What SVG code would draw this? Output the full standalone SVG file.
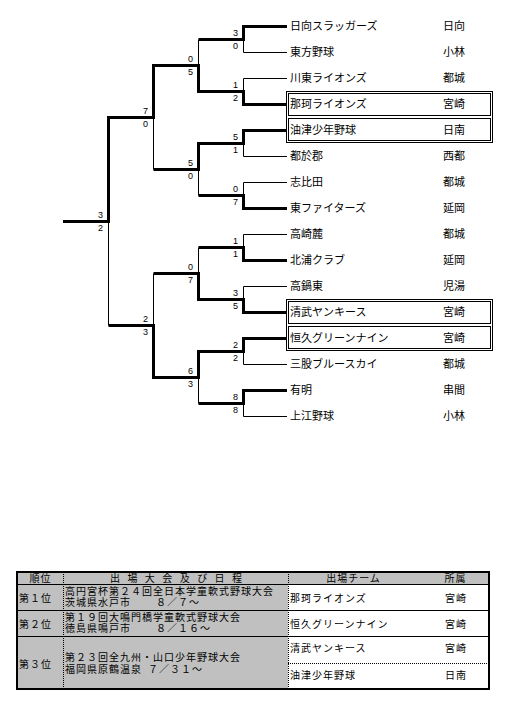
<svg xmlns="http://www.w3.org/2000/svg" width="510" height="703" viewBox="0 0 510 703">
<style>
.t{font-family:"Noto Sans CJK JP","Noto Sans CJK SC",sans-serif;font-size:11px;fill:#000}
.m{font-family:"Noto Sans CJK JP","Noto Sans CJK SC",sans-serif;font-size:10px;letter-spacing:1px;fill:#000}
.s{font-family:"Liberation Sans",Arial,sans-serif;font-size:9px;fill:#000;text-anchor:end}
.thin{stroke:#000;stroke-width:1;fill:none}
.thick{stroke:#000;stroke-width:3;fill:none;stroke-linejoin:miter;stroke-linecap:butt}
.box{stroke:#000;stroke-width:1;fill:none}
.dot{stroke:#000;stroke-width:1;stroke-dasharray:1 1;fill:none}
.gray{fill:#c0c0c0}
.c{text-anchor:middle}
</style>
<rect width="510" height="703" fill="#fff"/>

<g id="connectors">
  <g id="thin-lines">
    <path class="thin" d="M243.5 26.5H287M243.5 52.5H287M243.5 78.5H287M243.5 104.5H287M243.5 130.5H287M243.5 156.5H287M243.5 182.5H287M243.5 208.5H287M243.5 234.5H287M243.5 260.5H287M243.5 286.5H287M243.5 312.5H287M243.5 338.5H287M243.5 364.5H287M243.5 390.5H287M243.5 416.5H287"/>
    <path class="thin" d="M243.5 26.5V52.5M243.5 78.5V104.5M243.5 130.5V156.5M243.5 182.5V208.5M243.5 234.5V260.5M243.5 286.5V312.5M243.5 338.5V364.5M243.5 390.5V416.5"/>
    <path class="thin" d="M198.5 39.5V91.5M198.5 143.5V195.5M198.5 247.5V299.5M198.5 351.5V403.5"/>
    <path class="thin" d="M153.5 65.5V169.5M153.5 273.5V377.5M108.5 117.5V325.5"/>
  </g>
  <g id="winner-lines">
    <path class="thick" d="M287 26.5H243.5V39.5H198.5"/>
    <path class="thick" d="M287 104.5H243.5V91.5H198.5V65.5H153.5V117.5H108.5V221.5H63"/>
    <path class="thick" d="M287 130.5H243.5V143.5H198.5V169.5H153.5"/>
    <path class="thick" d="M287 208.5H243.5V195.5H198.5"/>
    <path class="thick" d="M287 260.5H243.5V247.5H198.5"/>
    <path class="thick" d="M287 312.5H243.5V299.5H198.5V273.5H153.5"/>
    <path class="thick" d="M287 338.5H243.5V351.5H198.5V377.5H153.5V325.5H108.5"/>
    <path class="thick" d="M287 390.5H243.5V403.5H198.5"/>
  </g>
</g>

<g id="scores">
  <text class="s" x="238" y="36">3</text><text class="s" x="238" y="48.5">0</text>
  <text class="s" x="238" y="88">1</text><text class="s" x="238" y="100.5">2</text>
  <text class="s" x="238" y="140">5</text><text class="s" x="238" y="152.5">1</text>
  <text class="s" x="238" y="192">0</text><text class="s" x="238" y="204.5">7</text>
  <text class="s" x="238" y="244">1</text><text class="s" x="238" y="256.5">1</text>
  <text class="s" x="238" y="296">3</text><text class="s" x="238" y="308.5">5</text>
  <text class="s" x="238" y="348">2</text><text class="s" x="238" y="360.5">2</text>
  <text class="s" x="238" y="400">8</text><text class="s" x="238" y="412.5">8</text>
  <text class="s" x="193" y="62">0</text><text class="s" x="193" y="74.5">5</text>
  <text class="s" x="193" y="166">5</text><text class="s" x="193" y="178.5">0</text>
  <text class="s" x="193" y="270">0</text><text class="s" x="193" y="282.5">7</text>
  <text class="s" x="193" y="374">6</text><text class="s" x="193" y="386.5">3</text>
  <text class="s" x="148" y="114">7</text><text class="s" x="148" y="126.5">0</text>
  <text class="s" x="148" y="322">2</text><text class="s" x="148" y="334.5">3</text>
  <text class="s" x="103" y="218">3</text><text class="s" x="103" y="230.5">2</text>
</g>

<g id="highlight-boxes">
  <rect class="box" x="286.5" y="91.5" width="206" height="51"/>
  <rect class="box" x="288.5" y="93.5" width="202" height="22"/>
  <rect class="box" x="288.5" y="118.5" width="202" height="22"/>
  <rect class="box" x="286.5" y="299.5" width="206" height="51"/>
  <rect class="box" x="288.5" y="301.5" width="202" height="22"/>
  <rect class="box" x="288.5" y="326.5" width="202" height="22"/>
</g>

<g id="team-01"><text class="t" x="290" y="29.5">日向スラッガーズ</text><text class="t" x="443" y="29.5">日向</text></g>
<g id="team-02"><text class="t" x="290" y="55.5">東方野球</text><text class="t" x="443" y="55.5">小林</text></g>
<g id="team-03"><text class="t" x="290" y="81.5">川東ライオンズ</text><text class="t" x="443" y="81.5">都城</text></g>
<g id="team-04"><text class="t" x="290" y="107.5">那珂ライオンズ</text><text class="t" x="443" y="107.5">宮崎</text></g>
<g id="team-05"><text class="t" x="290" y="133.5">油津少年野球</text><text class="t" x="443" y="133.5">日南</text></g>
<g id="team-06"><text class="t" x="290" y="159.5">都於郡</text><text class="t" x="443" y="159.5">西都</text></g>
<g id="team-07"><text class="t" x="290" y="185.5">志比田</text><text class="t" x="443" y="185.5">都城</text></g>
<g id="team-08"><text class="t" x="290" y="211.5">東ファイターズ</text><text class="t" x="443" y="211.5">延岡</text></g>
<g id="team-09"><text class="t" x="290" y="237.5">高崎麓</text><text class="t" x="443" y="237.5">都城</text></g>
<g id="team-10"><text class="t" x="290" y="263.5">北浦クラブ</text><text class="t" x="443" y="263.5">延岡</text></g>
<g id="team-11"><text class="t" x="290" y="289.5">高鍋東</text><text class="t" x="443" y="289.5">児湯</text></g>
<g id="team-12"><text class="t" x="290" y="315.5">清武ヤンキース</text><text class="t" x="443" y="315.5">宮崎</text></g>
<g id="team-13"><text class="t" x="290" y="341.5">恒久グリーンナイン</text><text class="t" x="443" y="341.5">宮崎</text></g>
<g id="team-14"><text class="t" x="290" y="367.5">三股ブルースカイ</text><text class="t" x="443" y="367.5">都城</text></g>
<g id="team-15"><text class="t" x="290" y="393.5">有明</text><text class="t" x="443" y="393.5">串間</text></g>
<g id="team-16"><text class="t" x="290" y="419.5">上江野球</text><text class="t" x="443" y="419.5">小林</text></g>

<g id="results-table">
  <rect x="17" y="572" width="472" height="117" fill="#fff"/>
  <rect class="gray" x="17" y="572" width="472" height="12.5"/>
  <rect class="gray" x="17" y="584" width="271" height="105"/>
  <path class="thin" d="M17 584.5H489M17 610.5H489M17 636.5H489"/>
  <path class="dot" d="M288 663.5H489"/>
  <path class="dot" d="M63.5 572V689M288.5 572V689"/>
  <rect x="17" y="572" width="472" height="117" fill="none" stroke="#000" stroke-width="2"/>
  <text class="m c" x="40.5" y="582">順位</text>
  <text class="m" x="110" y="582" textLength="133" lengthAdjust="spacing">出 場 大 会 及 び 日 程</text>
  <text class="m c" x="353.5" y="582">出場チーム</text>
  <text class="m c" x="455.5" y="582">所属</text>
  <text class="m" x="19" y="601.5">第１位</text>
  <text class="m" x="65" y="594.5">高円宮杯第２４回全日本学童軟式野球大会<tspan x="65" y="605.5">茨城県水戸市</tspan><tspan x="156" y="605.5">８／７～</tspan></text>
  <text class="m" x="290" y="601.5">那珂ライオンズ</text><text class="m" x="445" y="601.5">宮崎</text>
  <text class="m" x="19" y="627.5">第２位</text>
  <text class="m" x="65" y="620.5">第１９回大鳴門橋学童軟式野球大会<tspan x="65" y="631.5">徳島県鳴戸市</tspan><tspan x="156" y="631.5">８／１６～</tspan></text>
  <text class="m" x="290" y="627.5">恒久グリーンナイン</text><text class="m" x="445" y="627.5">宮崎</text>
  <text class="m" x="19" y="667.5">第３位</text>
  <text class="m" x="65" y="660.5">第２３回全九州・山口少年野球大会<tspan x="65" y="672.5">福岡県原鶴温泉</tspan><tspan x="148" y="672.5">７／３１～</tspan></text>
  <text class="m" x="290" y="651.5">清武ヤンキース</text><text class="m" x="445" y="651.5">宮崎</text>
  <text class="m" x="290" y="678.5">油津少年野球</text><text class="m" x="445" y="678.5">日南</text>
</g>
</svg>
